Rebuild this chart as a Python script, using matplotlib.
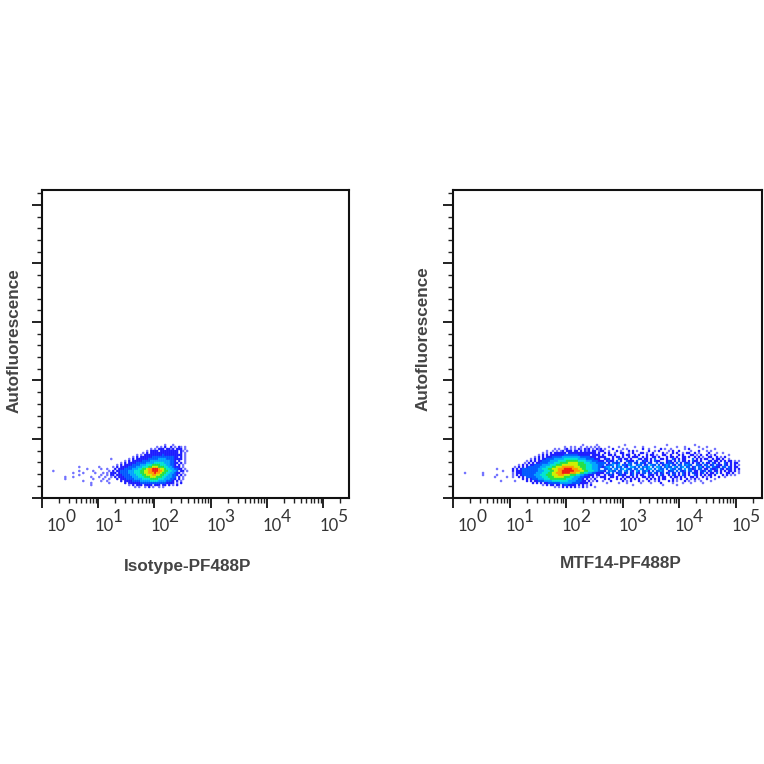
#!/usr/bin/env python3
"""Two flow cytometry pseudocolour dot plots, isotype control vs MTF14."""
import matplotlib

matplotlib.use("Agg")
import matplotlib.pyplot as plt  # noqa: E402
import numpy as np  # noqa: E402
from matplotlib.colors import BoundaryNorm, ListedColormap  # noqa: E402
from matplotlib.ticker import LogLocator, MultipleLocator, NullFormatter  # noqa: E402

# density, one row per y bin (top to bottom), one char per
# x bin. '.' is empty, 1-9 goes from sparse blue to red
ISOTYPE_LEFT = [
    "",
    "",
    "",
    "",
    "",
    "",
    "",
    ".............................1",
    "",
    "",
    "",
    ".............1.........1",
    ".................1......1..1",
    "1............1......1.......1.",
    "..........1....1.....1...1.1.2",
    ".............1..........1..1.2",
    "......1...1........1...1..1..1",
    "......1.............1....1..1",
    "...............1........1..1.",
    "...................1........1",
    "...................1",
    "",
]
ISOTYPE_RIGHT = [
    "..........................1...1.......",
    "......................1.1.2..2.1.21.1.",
    "...................1.1.222.2212.222.1.",
    ".................1.2222.222222222.21.1",
    "...............1.2.22222222222222.2.1.",
    "............1.1.2222222223222222222.1.",
    "..........1.2.2222223333333333322.2.1.",
    "........1.2.22222233333444433332222.1.",
    "......1.2.2222233334444444444332.2..1.",
    "....1.2.2222333334444555554443322.2.1.",
    "..1.2.22223333444555666655544332.2.1..",
    "1.2.222233334445556677766655443222.1..",
    ".2.22233334445566788999877655443322.1.",
    "2.2233334445556677889998876655443.22.1",
    "22.2333344455566778889887665544322.1..",
    "2.2223333444555667778877665544332.2.1.",
    ".2.22233334445556667776665544433.2.1..",
    "..2.2223333444455556666555444332.2.1..",
    "....2.2222333344444555544443332.2.1...",
    "......2.22222233333333333332222.1.2...",
    "........1.2.222.2222.222.22.2.1.2.....",
    "...........1.1..1.2.1..1.1............",
]
MTF14_CORE = [
    "............................................................1......1..",
    "...................................................1..1.1..1..1.1.1.1.",
    "..............................................1.1..12.1.1.21.212.1.212",
    "..........................................1..1.1.12.222.22.2.212.22.12",
    "........................................1.1.2.222222.22222222222222.2.",
    "......................................1.2.2.22222223333333222222.2222.",
    "....................................1.2.2.2223333344444444433333222.22",
    "..................................1.2.2.22333344444555555544443333222.",
    "................................1.2.2.223333444455556666665555444333222",
    "...............................1.2.2.22333344455566667777766655544433322",
    "............................1.2.2.22333344445556667777777766665554443332",
    "..........................1.2.2.233333344455566777888888777666555444333",
    ".................1.......2.2.2333333334455566777888999988877665554443",
    "....................1....2.2223333333344455566778899999988877665554433",
    ".1........1..............1.2223333333444555667788899998887766554433222",
    "..........1......1.......1.2.2333333444555666777888777666554433222.22.",
    "................1.....1..1..2.2.33333444555666777776665544433222.2.1.2",
    "..............................2.2.233344455566666666555444332.2.1.2...",
    "...................1......1.....2.2.22333444455555555444433322.2.1.2..",
    "...................................2.2.2.2233333344444433332222.1.....",
    "........................................1.2.22.22.2332222.2.2.1.2.....",
    "..............................................1.1.2.2.2.2.1.2.1...1...",
]
MTF14_TAIL = [
    "...........1....................1.............1......................",
    "...1....1.......1...1.....1..........1...1......1...1................",
    ".1...2....1.1.......2..1.....2.1..1......1.2......1.....1............",
    "2..1...2.1...2.2.1.....2..1.2....1.2..2.....1...2...1.1..............",
    ".2.2..1..22..1.2...22.1..2....2.1..2.2..1.22..2.1....2...1..1........",
    "2..22.2...2.22..2.2...2.22.1..22..2...2.2...22.1.2..2.1.2......1.....",
    "22...2.22.2..2.222..2.2..22.2...2.22.2..22.2..2.2.1..22..2.1.2.......",
    ".232.2..32.22.2...32.22.2.3..22.2..32.2.22...3.2.2.22..2.22.2..1.....",
    "2.2322.3.2..3222.3..232.2.322...232.2.3.22.2.322.2...32.22.2.2.22.1.1",
    "33.2.3323..2.33.32.332.32..3.23.2332.3.2.323.2.32.3.22.32.2..32.2.22.",
    "3.2334.34.33243..343.23.433.3.2343.32.33.3433..332.33.23.322.32.2.2.1",
    "2344.3.343.32.443.3.3434.3.443.3433.43.34.33.23.342.33.3322.33.32.22.",
    ".3343.43.34.433.33.43.344.3.433.3.433.33.4.3323.33.22.3223.32.232.2.2",
    "32.3433.33.43.32.43.3342.3.3343..233.3.323.33.22.323.23.22.2.2.22.2.1",
    "2.33.3.233.23.23.32.33.23.32.23.23.23.2.32.2.322.23.2.22.3.2..22.2..1",
    ".2.232..2322..23.2.22..322.2.32..2.32.2.32.2..32.2.2.22.2...2.2.1.1..",
    "22..22.2..2.22.2.2..22.2.2..2.22..2.22.2.2..22.2..2.1.2...2..1.......",
    ".2.2...2.2.2..2.2.2...2.2.2.2.22...2.1.2..2.1.2.1...2...1............",
    "1...2.....2.1.2...2.1..2..1.2....2.2.1...2.1..1..1....1..............",
    "..1.....1...1......1....1....2.....1....1...1.....1..................",
    "...............1..............1......1................................",
    "",
]

ISOTYPE_ROWS = [a.ljust(30, ".") + b for a, b in zip(ISOTYPE_LEFT, ISOTYPE_RIGHT)]
MTF14_ROWS = [a.ljust(70, ".")[:70] + b for a, b in zip(MTF14_CORE, MTF14_TAIL)]

LEVEL_COLORS = ["#7272ff", "#1c1cff", "#0058ff", "#00a4ff", "#00e4d4",
                "#22e044", "#cdf000", "#ff9a00", "#f01c10"]
X_LABELS = ["Isotype-PF488P", "MTF14-PF488P"]
Y_LABEL = "Autofluorescence"
DECADES = [0, 1, 2, 3, 4, 5]

W = 764


def grid_points(rows, x_start, x_step, y_top, y_step):
    xs, ys, levels = [], [], []
    for r, row in enumerate(rows):
        for c, ch in enumerate(row):
            if ch != ".":
                xs.append(10 ** (x_start + (c + 0.5) * x_step))
                ys.append(y_top - (r + 0.5) * y_step)
                levels.append(int(ch))
    return np.array(xs), np.array(ys), np.array(levels)


def draw_panel(ax, rows, x_start, x_step):
    cmap = ListedColormap(LEVEL_COLORS)
    norm = BoundaryNorm(np.arange(0.5, 10.5), cmap.N)
    x, y, lev = grid_points(rows, x_start, x_step, 0.9145, 2 / 58.5)
    ax.scatter(x, y, c=lev, cmap=cmap, norm=norm, s=3.4, marker="o", linewidths=0)

    ax.set_xscale("log")
    ax.set_xlim(10 ** -0.01, 10 ** 5.46)
    ax.set_ylim(0, 5.256)
    ax.xaxis.set_major_locator(LogLocator(base=10, numticks=10))
    ax.xaxis.set_minor_locator(LogLocator(base=10, subs=np.arange(2, 10) / 1.0, numticks=10))
    ax.xaxis.set_major_formatter(NullFormatter())
    ax.xaxis.set_minor_formatter(NullFormatter())
    ax.yaxis.set_major_locator(MultipleLocator(1))
    ax.yaxis.set_minor_locator(MultipleLocator(0.2))
    ax.yaxis.set_major_formatter(NullFormatter())
    ax.tick_params(which="major", length=7, width=1.3, color="#111111")
    ax.tick_params(which="minor", length=3.5, width=1.0, color="#222222")
    for s in ax.spines.values():
        s.set_linewidth(1.5)
        s.set_color("#111111")

    # decade labels sit under and to the right of their ticks
    for d in DECADES:
        dx = 5 if d == 0 else -4
        ax.annotate("10", (10 ** d, 0), xytext=(dx, -33.5), textcoords="offset pixels",
                    ha="left", va="baseline", fontsize=12, family="Lato", color="#333333")
        ax.annotate(str(d), (10 ** d, 0), xytext=(dx + 18, -24.5), textcoords="offset pixels",
                    ha="left", va="baseline", fontsize=12.5, family="Lato", color="#333333")


def main():
    fig = plt.figure(figsize=(W / 100, W / 100), dpi=100, facecolor="white")
    axL = fig.add_axes([41.5 / W, 1 - 497.5 / W, 307.5 / W, 307.5 / W])
    axR = fig.add_axes([452.5 / W, 1 - 497.5 / W, 309 / W, 307.5 / W])

    draw_panel(axL, ISOTYPE_ROWS, 0.183, 2 / 56.3)
    draw_panel(axR, MTF14_ROWS, 0.159, 2 / 56.5)

    label_style = dict(family="Liberation Sans", fontweight="bold", fontsize=12.3, color="#444444",
                       ha="center", va="center")
    fig.text(188 / W, 1 - 566 / W, X_LABELS[0], **label_style)
    fig.text(621 / W, 1 - 564 / W, X_LABELS[1], **label_style)
    fig.text(14 / W, 1 - 341 / W, Y_LABEL, rotation=90, **label_style)
    fig.text(423 / W, 1 - 339 / W, Y_LABEL, rotation=90, **label_style)

    fig.savefig("out.png", dpi=100)
    plt.close(fig)


if __name__ == "__main__":
    main()
